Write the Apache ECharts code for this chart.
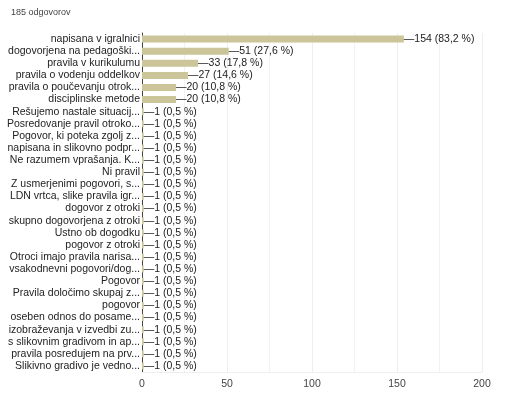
<!DOCTYPE html>
<html>
<head>
<meta charset="utf-8">
<script src="https://cdn.jsdelivr.net/npm/echarts@6/dist/echarts.min.js"></script>
<style>
html, body { margin: 0; padding: 0; background: #fff; }
#mychart { width: 522px; height: 398px; }
</style>
</head>
<body>
<div id="mychart"></div>
<script>
var total = 185;
var categories = [
    'napisana v igralnici',
    'dogovorjena na pedagoški...',
    'pravila v kurikulumu',
    'pravila o vodenju oddelkov',
    'pravila o poučevanju otrok...',
    'disciplinske metode',
    'Rešujemo nastale situacij...',
    'Posredovanje pravil otroko...',
    'Pogovor, ki poteka zgolj z...',
    'napisana in slikovno podpr...',
    'Ne razumem vprašanja. K...',
    'Ni pravil',
    'Z usmerjenimi pogovori, s...',
    'LDN vrtca, slike pravila igr...',
    'dogovor z otroki',
    'skupno dogovorjena z otroki',
    'Ustno ob dogodku',
    'pogovor z otroki',
    'Otroci imajo pravila narisa...',
    'vsakodnevni pogovori/dog...',
    'Pogovor',
    'Pravila določimo skupaj z...',
    'pogovor',
    'oseben odnos do posame...',
    'izobraževanja v izvedbi zu...',
    's slikovnim gradivom in ap...',
    'pravila posredujem na prv...',
    'Slikivno gradivo je vedno...'
];
var counts = [154, 51, 33, 27, 20, 20, 1, 1, 1, 1, 1, 1, 1, 1, 1, 1, 1, 1, 1, 1, 1, 1, 1, 1, 1, 1, 1, 1];
var percents = ['83,2', '27,6', '17,8', '14,6', '10,8', '10,8', '0,5', '0,5', '0,5', '0,5', '0,5', '0,5', '0,5', '0,5',
    '0,5', '0,5', '0,5', '0,5', '0,5', '0,5', '0,5', '0,5', '0,5', '0,5', '0,5', '0,5', '0,5', '0,5'];

var myChart = echarts.init(document.getElementById('mychart'));
myChart.setOption({
    animation: false,
    title: {
        text: total + ' odgovorov',
        left: 6,
        top: 3,
        textStyle: { fontFamily: 'Liberation Sans', fontSize: 9, fontWeight: 'normal', color: '#444' }
    },
    grid: { left: 142, right: 40, top: 33, bottom: 26 },
    xAxis: {
        type: 'value',
        min: 0,
        max: 200,
        interval: 50,
        axisLine: { show: true, lineStyle: { color: '#eee' } },
        axisTick: { show: false },
        axisLabel: { fontFamily: 'Liberation Sans', fontSize: 10.5, color: '#444', margin: 7 },
        splitLine: { lineStyle: { color: '#eee' } },
        minorTick: { show: false, splitNumber: 2 },
        minorSplitLine: { show: true, lineStyle: { color: '#f2f2f2' } }
    },
    yAxis: {
        type: 'category',
        inverse: true,
        data: categories,
        axisLine: { show: true, lineStyle: { color: '#444' } },
        axisTick: { show: false },
        axisLabel: { fontFamily: 'Liberation Sans', fontSize: 10.5, color: '#222', margin: 2, interval: 0 }
    },
    series: [{
        type: 'bar',
        data: counts,
        barWidth: 7,
        itemStyle: { color: '#ccc599' },
        label: {
            show: true,
            position: 'right',
            distance: 0,
            fontFamily: 'Liberation Sans',
            fontSize: 10.5,
            color: '#222',
            formatter: function (p) {
                return '—' + p.value + ' (' + percents[p.dataIndex] + ' %)';
            }
        }
    }]
});
</script>
</body>
</html>
